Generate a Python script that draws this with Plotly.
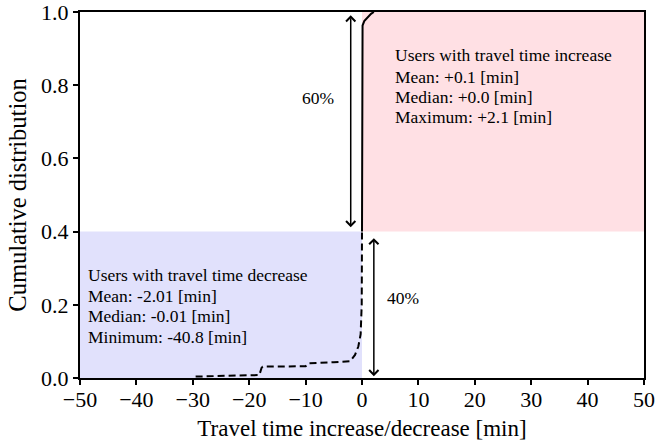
import plotly.graph_objects as go

# ---- data ----
dec_x = [-29.5, -25.0, -18.2, -17.8, -17.6, -10.0, -9.5, -5.0, -2.1, -1.24, -0.65, -0.24, -0.05, 0.0]
dec_y = [0.004, 0.006, 0.008, 0.028, 0.031, 0.032, 0.040, 0.043, 0.046, 0.063, 0.086, 0.12, 0.20, 0.40]
inc_x = [0.0, 0.02, 0.1, 0.4, 1.0, 1.6, 2.1]
inc_y = [0.40, 0.95, 0.963, 0.975, 0.986, 0.995, 1.0]
share_decrease = 0.40
share_increase = 0.60
x_ticks = [-50, -40, -30, -20, -10, 0, 10, 20, 30, 40, 50]
y_ticks = [0.0, 0.2, 0.4, 0.6, 0.8, 1.0]
inc_lines = ["Users with travel time increase", "Mean: +0.1 [min]", "Median: +0.0 [min]", "Maximum: +2.1 [min]"]
dec_lines = ["Users with travel time decrease", "Mean: -2.01 [min]", "Median: -0.01 [min]", "Minimum: -40.8 [min]"]

FONT = "Liberation Serif"
TXT = dict(family=FONT, size=17.5, color="black")

fig = go.Figure()
fig.add_trace(go.Scatter(x=dec_x, y=dec_y, mode="lines",
                         line=dict(color="black", width=2, dash="7px,4px"), showlegend=False))
fig.add_trace(go.Scatter(x=inc_x, y=inc_y, mode="lines",
                         line=dict(color="black", width=2), showlegend=False))

# shaded regions
fig.add_shape(type="rect", xref="x", yref="y", x0=0, x1=x_ticks[-1], y0=share_decrease, y1=1.0,
              fillcolor="rgb(255,224,228)", line_width=0, layer="below")
fig.add_shape(type="rect", xref="x", yref="y", x0=x_ticks[0], x1=0, y0=0, y1=share_decrease,
              fillcolor="rgb(225,225,252)", line_width=0, layer="below")

# arrows
arrow_style = dict(showarrow=True, arrowhead=4, startarrowhead=4, arrowside="end+start",
                   arrowsize=1.2, startarrowsize=1.2, arrowwidth=1.5, arrowcolor="black",
                   axref="x", ayref="y", text="")
fig.add_annotation(x=-2.0, y=share_decrease + 0.012, ax=-2.0, ay=0.995, **arrow_style)
fig.add_annotation(x=2.1, y=0.005, ax=2.1, ay=share_decrease - 0.014, **arrow_style)

fig.add_annotation(x=-7.8, y=0.765, text=f"{int(round(share_increase*100))}%", showarrow=False, font=TXT)
fig.add_annotation(x=7.3, y=0.219, text=f"{int(round(share_decrease*100))}%", showarrow=False, font=TXT)

shifts = [0, -21.5, -41.5, -61.5]
for line, s in zip(inc_lines, shifts):
    fig.add_annotation(x=5.5, y=0.8825, yshift=s, text=line, showarrow=False,
                       xanchor="left", yanchor="middle", font=TXT)
shifts = [0, -20.5, -41, -61.5]
for line, s in zip(dec_lines, shifts):
    fig.add_annotation(x=-48.9, y=0.2814, yshift=s, text=line, showarrow=False,
                       xanchor="left", yanchor="middle", font=TXT)

axis_common = dict(showgrid=False, zeroline=False, showline=True, mirror=True,
                   linecolor="black", linewidth=2, ticks="outside", ticklen=5,
                   tickwidth=1.5, tickcolor="black", automargin=False,
                   ticklabeloverflow="allow", layer="above traces",
                   tickfont=dict(family=FONT, size=22, color="black"))

fig.update_xaxes(range=[x_ticks[0], x_ticks[-1]], tickvals=x_ticks, ticklabelstandoff=-4,
                 title_text="Travel time increase/decrease [min]", title_standoff=8,
                 title_font=dict(family=FONT, size=23, color="black"), **axis_common)
fig.update_yaxes(range=[0, 1], tickvals=y_ticks, tickformat=".1f",
                 title_text="Cumulative distribution", title_standoff=8,
                 title_font=dict(family=FONT, size=24.5, color="black"), **axis_common)

fig.update_layout(width=656, height=445, margin=dict(l=80, r=12, t=12, b=67),
                  plot_bgcolor="white", paper_bgcolor="white")

fig.write_html("out.html", config={"displayModeBar": False},
               post_script="document.body.style.margin='0px';")
